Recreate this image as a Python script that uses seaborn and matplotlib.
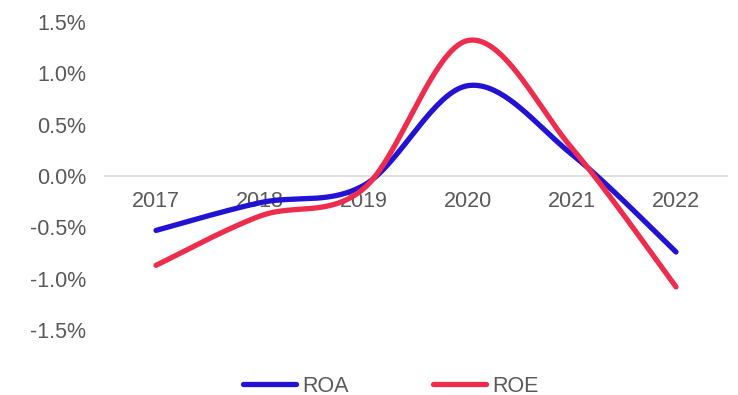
import numpy as np
import pandas as pd
import matplotlib
matplotlib.use("Agg")
import matplotlib.pyplot as plt
import seaborn as sns
from matplotlib.lines import Line2D
from matplotlib.ticker import FuncFormatter

years = ["2017", "2018", "2019", "2020", "2021", "2022"]
roa = [-0.53, -0.26, -0.09, 0.88, 0.21, -0.74]
roe = [-0.87, -0.39, -0.12, 1.32, 0.27, -1.08]
series_names = ["ROA", "ROE"]
colors = {"ROA": "#2112D4", "ROE": "#EE2D4E"}
yticks = [-1.5, -1.0, -0.5, 0.0, 0.5, 1.0, 1.5]

text_color = "#595959"
font = "Liberation Sans"
fs = 15.5


def smooth(values, steps=40):
    """Catmull-Rom style Bezier smoothing through every point."""
    p = np.array([[i, v] for i, v in enumerate(values)], dtype=float)
    ext = np.vstack([p[0], p, p[-1]])
    xs, ys = [], []
    for i in range(len(p) - 1):
        p0, p1, p2, p3 = ext[i], ext[i + 1], ext[i + 2], ext[i + 3]
        c1 = p1 + (p2 - p0) / 6.0
        c2 = p2 - (p3 - p1) / 6.0
        t = np.linspace(0, 1, steps, endpoint=(i == len(p) - 2))[:, None]
        b = ((1 - t) ** 3) * p1 + 3 * ((1 - t) ** 2) * t * c1 + 3 * (1 - t) * t ** 2 * c2 + t ** 3 * p2
        xs.extend(b[:, 0])
        ys.extend(b[:, 1])
    return np.array(xs), np.array(ys)


frames = []
for name, vals in zip(series_names, [roa, roe]):
    sx, sy = smooth(vals)
    frames.append(pd.DataFrame({"x": sx, "value": sy, "series": name}))
df = pd.concat(frames, ignore_index=True)

sns.set_theme(style="white")
plt.rcParams["font.family"] = [font, "DejaVu Sans"]

fig = plt.figure(figsize=(7.38, 3.95), dpi=100)
ax = fig.add_axes([104 / 738, 1 - 330 / 395, (728 - 104) / 738, (330 - 22) / 395])

ax.axhline(0, color="#D9D9D9", lw=1.2, zorder=1)

sns.lineplot(data=df, x="x", y="value", hue="series", palette=colors,
             sort=False, estimator=None, lw=3.8, legend=False, ax=ax,
             solid_capstyle="round", zorder=3)

ax.set_xlim(-0.5, len(years) - 0.5)
ax.set_ylim(-1.5, 1.5)
ax.set_yticks(yticks)
ax.yaxis.set_major_formatter(FuncFormatter(lambda v, _: f"{v:.1f}%"))
ax.tick_params(axis="y", length=0, pad=13, labelsize=fs, labelcolor=text_color)
ax.set_xticks([])
ax.set_xlabel("")
ax.set_ylabel("")
for s in ax.spines.values():
    s.set_visible(False)

# category labels sit just under the zero line
for i, yr in enumerate(years):
    ax.annotate(yr, xy=(i, 0), xytext=(0, -18.5), textcoords="offset points",
                ha="center", va="center", fontsize=fs, color=text_color, zorder=2)

handles = [Line2D([0], [0], color=colors[n], lw=3.8, solid_capstyle="round") for n in series_names]
fig.legend(handles, series_names, loc="center", bbox_to_anchor=(391 / 738, 1 - 386 / 395),
           ncol=2, frameon=False, fontsize=fs, labelcolor=text_color,
           handlelength=2.45, handletextpad=0.3, columnspacing=3.9)

fig.savefig("out.png", dpi=100)
